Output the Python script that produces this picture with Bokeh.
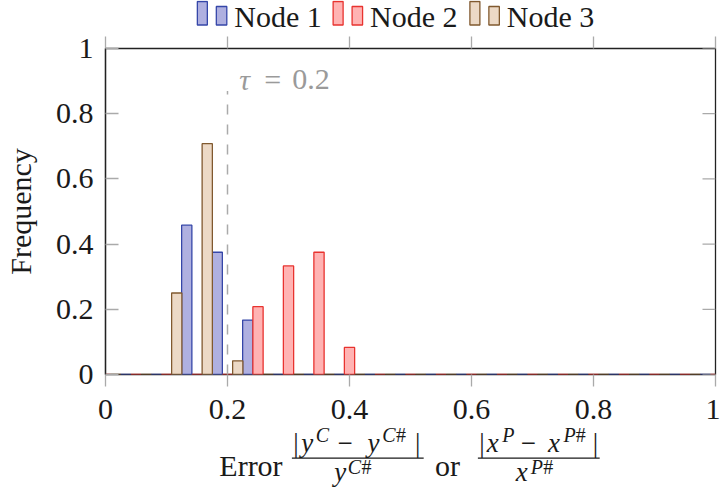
import math
from bokeh.plotting import figure
from bokeh.layouts import column
from bokeh.models import Range1d, FixedTicker, LinearAxis, Label, ColumnDataSource
from bokeh.transform import dodge
from bokeh.embed import file_html
from bokeh.resources import INLINE
from bokeh.core.properties import value

# ---------------- data ----------------
bins = [0.00, 0.05, 0.10, 0.15, 0.20, 0.25, 0.30, 0.35, 0.40, 0.45, 0.50,
        0.55, 0.60, 0.65, 0.70, 0.75, 0.80, 0.85, 0.90, 0.95, 1.00]
node1 = [0, 0, 0, 0.458, 0.375, 0.167, 0, 0, 0, 0, 0,
         0, 0, 0, 0, 0, 0, 0, 0, 0, 0]
node2 = [0, 0, 0, 0, 0, 0.208, 0.333, 0.375, 0.083, 0, 0,
         0, 0, 0, 0, 0, 0, 0, 0, 0, 0]
node3 = [0, 0, 0.25, 0.708, 0.042, 0, 0, 0, 0, 0, 0,
         0, 0, 0, 0, 0, 0, 0, 0, 0, 0]
series_names = ["Node 1", "Node 2", "Node 3"]
x_ticks = [0, 0.2, 0.4, 0.6, 0.8, 1.0]
x_tick_labels = ["0", "0.2", "0.4", "0.6", "0.8", "1"]
y_ticks = [0, 0.2, 0.4, 0.6, 0.8, 1.0]
y_tick_labels = ["0", "0.2", "0.4", "0.6", "0.8", "1"]
tau = 0.2
tau_line_top = 0.87
y_label = "Frequency"

# ---------------- style / layout ----------------
FILL = ["#afb0e0", "#ffb3b3", "#ecd9c6"]
EDGE = ["#3546a8", "#e8332f", "#80592f"]
SERIF = "Liberation Serif"
INK = "#1a1a1a"
TICK_C = "#aaaaaa"
BW = 0.0168
W = 720
TOP_H = 31          # legend strip
MAIN_H = 393        # main plot
BOT_H = 494 - TOP_H - MAIN_H   # x-label strip
FL, FR = 104, 715   # frame left/right (page px)
FT, FB = 48, 374    # frame top/bottom (page px)


def shift(size):
    # rendered alphabetic baseline sits lower than requested; compensate
    return 0.3 * size


def dx(px):
    return (px - FL) / (FR - FL)


def dy(py):
    return (FB - py) / (FB - FT)


# ---------------- main plot ----------------
p = figure(width=W, height=MAIN_H, x_range=Range1d(0, 1), y_range=Range1d(0, 1),
           output_backend="svg", toolbar_location=None,
           min_border_left=FL, min_border_right=W - FR,
           min_border_top=FT - TOP_H, min_border_bottom=TOP_H + MAIN_H - FB)
p.xgrid.visible = False
p.ygrid.visible = False
p.outline_line_color = "#222222"
p.outline_line_width = 1.3
p.background_fill_color = "white"
p.border_fill_color = "white"

src = ColumnDataSource(dict(x=bins, n1=node1, n2=node2, n3=node3))
for i, (col, off) in enumerate([("n1", -BW), ("n2", 0.0), ("n3", BW)]):
    p.vbar(x=dodge("x", off, range=p.x_range), top=col, bottom=0, width=BW,
           source=src, fill_color=FILL[i], line_color=EDGE[i], line_width=1.3)

p.segment(x0=[tau], y0=[0], x1=[tau], y1=[tau_line_top], line_color="#aaaaaa",
          line_width=1.5, line_dash="10 10")

# right-side inner ticks
p.ray(x=[1.0 for _ in y_ticks], y=y_ticks, length=13, length_units="screen",
      angle=math.pi, line_color=TICK_C, line_width=1.3)

xa = p.xaxis[0]
xa.ticker = FixedTicker(ticks=x_ticks)
xa.major_label_overrides = dict(zip(x_ticks, x_tick_labels))
xa.major_tick_in = 0
xa.major_tick_out = 12
xa.minor_tick_line_color = None
xa.major_tick_line_color = TICK_C
xa.major_tick_line_width = 1.3
xa.axis_line_color = None
xa.major_label_standoff = 13
xa.major_label_text_font = SERIF
xa.major_label_text_font_size = "30px"
xa.major_label_text_color = INK

ya = p.yaxis[0]
ya.ticker = FixedTicker(ticks=y_ticks)
ya.major_label_overrides = dict(zip(y_ticks, y_tick_labels))
ya.major_tick_in = 13
ya.major_tick_out = 0
ya.minor_tick_line_color = None
ya.major_tick_line_color = TICK_C
ya.major_tick_line_width = 1.3
ya.axis_line_color = "#222222"
ya.axis_line_width = 1.3
ya.major_label_standoff = 12
ya.major_label_text_font = SERIF
ya.major_label_text_font_size = "30px"
ya.major_label_text_color = INK
ya.axis_label = y_label
ya.axis_label_text_font = SERIF
ya.axis_label_text_font_size = "30px"
ya.axis_label_text_font_style = "normal"
ya.axis_label_text_color = INK
ya.axis_label_standoff = 16

top_axis = LinearAxis(ticker=FixedTicker(ticks=x_ticks), major_tick_in=0, major_tick_out=12,
                      major_tick_line_color=TICK_C, major_tick_line_width=1.3,
                      minor_tick_line_color=None, axis_line_color=None,
                      major_label_overrides={t: "" for t in x_ticks},
                      major_label_text_font_size="0px", major_label_standoff=0)
p.add_layout(top_axis, "above")

# tau annotation (inside the frame)
for txt, px, italic in [("τ", 238, True), ("=", 263, False), ("0.2", 291, False)]:
    p.add_layout(Label(x=dx(px), y=dy(88 - shift(30)), text=txt, text_font=SERIF,
                       text_font_size="30px",
                       text_font_style="italic" if italic else "normal",
                       text_color="#9a9a9a", text_baseline="alphabetic", text_align="left"))


def strip(h, y0):
    # x in page pixels (frame aligned with the main plot frame), y in page pixels
    f = figure(width=W, height=h, x_range=Range1d(FL, FR), y_range=Range1d(y0 + h, y0),
               output_backend="svg", toolbar_location=None,
               x_axis_type=None, y_axis_type=None,
               min_border_left=FL, min_border_right=W - FR,
               min_border_top=0, min_border_bottom=0)
    f.xgrid.visible = False
    f.ygrid.visible = False
    f.outline_line_color = None
    f.background_fill_color = "white"
    f.border_fill_color = "white"
    return f


def put(f, parts):
    # parts: list of (text, x, baseline_y, size, italic)
    for txt, x, y, size, italic in parts:
        f.text(x=[x], y=[y - shift(size)], text=[txt], text_font=value(SERIF),
               text_font_size=value(f"{size}px"),
               text_font_style="italic" if italic else "normal",
               text_color=INK, text_baseline="alphabetic", text_align="left")


# ---------------- legend strip ----------------
top = strip(TOP_H, 0)
legend_x = [196, 332, 469]
for i, name in enumerate(series_names):
    x0 = legend_x[i]
    top.quad(left=[x0, x0 + 19], right=[x0 + 10, x0 + 29.5], top=[1.0, 6.0], bottom=[24.5, 24.5],
             fill_color=FILL[i], line_color=EDGE[i], line_width=1.3)
    put(top, [(name, x0 + 37, 24.5, 30, False)])

# ---------------- x-label strip ----------------
bot = strip(BOT_H, TOP_H + MAIN_H)
MS, SS = 27, 20    # main and superscript sizes
NB, NS = 451, 440  # numerator baseline / superscript baseline
DB, DS = 480, 472  # denominator baseline / superscript baseline
put(bot, [
    ("Error", 218, 474, 30, False),
    ("|", 292, NB, MS, False), ("y", 300, NB, MS, True), ("C", 314.7, NS, SS, True),
    ("\u2212", 336.4, NB, MS, False), ("y", 366.4, NB, MS, True), ("C", 381.1, NS, SS, True),
    ("#", 395, NS, SS, False), ("|", 414, NB, MS, False),
    ("y", 333, DB, MS, True), ("C", 346.7, DS, SS, True), ("#", 360.5, DS, SS, False),
    ("or", 434, 474, 30, False),
    ("|", 478.3, NB, MS, False), ("x", 485.9, NB, MS, True), ("P", 501.5, NS, SS, True),
    ("\u2212", 519.9, NB, MS, False), ("x", 547.2, NB, MS, True), ("P", 562.8, NS, SS, True),
    ("#", 575, NS, SS, False), ("|", 592, NB, MS, False),
    ("x", 515, DB, MS, True), ("P", 530, DS, SS, True), ("#", 542.5, DS, SS, False),
])
bot.segment(x0=[290.7, 477], x1=[422.7, 599], y0=[457.7, 457.7], y1=[457.7, 457.7],
            line_color=INK, line_width=1.2)

layout = column(top, p, bot, spacing=0)
open("out.html", "w").write(file_html(layout, INLINE))
